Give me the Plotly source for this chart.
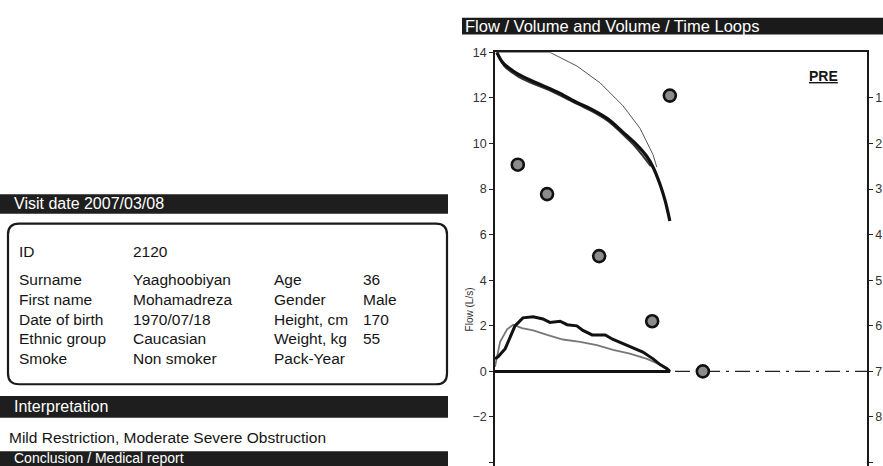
import plotly.graph_objects as go

W, H = 883, 466

# ---- spirometry curves (x = volume in L, y = flow in L/s) ----
fv_best_vol = [0.0, 0.07, 0.22, 0.32, 0.43, 0.60, 0.82, 1.03, 1.18, 1.40, 1.55, 1.76,
               1.89, 2.09, 2.37, 2.54, 2.90, 3.18, 3.40, 3.55, 3.70, 3.76, 0.0]
fv_best_flow = [0.55, 0.65, 1.0, 1.5, 2.0, 2.35, 2.4, 2.3, 2.15, 2.2, 2.05, 2.0,
                1.8, 1.6, 1.6, 1.4, 1.1, 0.85, 0.55, 0.3, 0.12, 0.0, 0.0]

fv_alt_vol = [0.0, 0.11, 0.26, 0.39, 0.58, 0.82, 1.12, 1.46, 1.83, 2.19, 2.54, 2.90, 3.27, 3.55, 3.76]
fv_alt_flow = [0.2, 1.3, 1.85, 2.05, 1.9, 1.8, 1.6, 1.4, 1.3, 1.15, 0.95, 0.78, 0.55, 0.3, 0.0]

# volume / time traces (right axis, litres, reversed)
vt_best_t = [0.04, 0.17, 0.39, 0.69, 1.03, 1.40, 1.76, 2.04, 2.41, 2.75, 3.05, 3.27, 3.40, 3.55, 3.66, 3.76]
vt_best_v = [0.0, 0.23, 0.41, 0.58, 0.73, 0.90, 1.10, 1.23, 1.45, 1.75, 2.03, 2.29, 2.52, 2.90, 3.26, 3.70]

vt_alt_t = [0.04, 0.20, 0.45, 0.75, 1.10, 1.45, 1.80, 2.10, 2.45, 2.75, 3.00, 3.20, 3.35]
vt_alt_v = [0.0, 0.30, 0.50, 0.66, 0.80, 0.97, 1.15, 1.30, 1.52, 1.80, 2.05, 2.30, 2.50]

vt_pred_t = [0.04, 1.18, 1.76, 2.26, 2.75, 3.12, 3.40, 3.48]
vt_pred_v = [0.0, 0.0, 0.30, 0.67, 1.17, 1.67, 2.25, 2.52]

# predicted points
pred_vol = [0.49, 1.12, 2.24, 3.38, 4.47, 3.76]
pred_flow = [9.07, 7.78, 5.06, 2.2, 0.0, 12.1]

baseline_x = [0.0, 8.0]
baseline_y = [0.0, 0.0]

flow_ticks = [-4, -2, 0, 2, 4, 6, 8, 10, 12, 14]
vol_ticks = [1, 2, 3, 4, 5, 6, 7, 8, 9]

# ---- patient panel ----
visit_header = "Visit date 2007/03/08"
patient_rows = [
    ("ID", "2120", "", ""),
    ("Surname", "Yaaghoobiyan", "Age", "36"),
    ("First name", "Mohamadreza", "Gender", "Male"),
    ("Date of birth", "1970/07/18", "Height, cm", "170"),
    ("Ethnic group", "Caucasian", "Weight, kg", "55"),
    ("Smoke", "Non smoker", "Pack-Year", ""),
]
interp_header = "Interpretation"
interp_text = "Mild Restriction, Moderate Severe Obstruction"
conclusion_header = "Conclusion / Medical report"
chart_title = "Flow / Volume and Volume / Time Loops"

FONT = "Liberation Sans, Arial, sans-serif"
INK = "#151515"


def px(x):
    return x / W


def py(y):
    return 1 - y / H


fig = go.Figure()

fig.add_trace(go.Scatter(x=baseline_x, y=baseline_y, mode="lines",
                         line=dict(color="#222", width=1.3, dash="longdashdot"),
                         hoverinfo="skip", showlegend=False))
fig.add_trace(go.Scatter(x=vt_pred_t, y=vt_pred_v, yaxis="y2", mode="lines",
                         line=dict(color="#555", width=1), showlegend=False))
fig.add_trace(go.Scatter(x=vt_alt_t, y=vt_alt_v, yaxis="y2", mode="lines",
                         line=dict(color="#333", width=2, shape="spline"), showlegend=False))
fig.add_trace(go.Scatter(x=vt_best_t, y=vt_best_v, yaxis="y2", mode="lines",
                         line=dict(color="#111", width=3.2, shape="spline"), showlegend=False))
fig.add_trace(go.Scatter(x=fv_alt_vol, y=fv_alt_flow, mode="lines",
                         line=dict(color="#777", width=1.8), showlegend=False))
fig.add_trace(go.Scatter(x=fv_best_vol, y=fv_best_flow, mode="lines",
                         line=dict(color="#111", width=3), showlegend=False))
fig.add_trace(go.Scatter(x=pred_vol, y=pred_flow, mode="markers",
                         marker=dict(size=12, color="#8c8c8c",
                                     line=dict(color="#111", width=2.6)),
                         showlegend=False))

shapes = []
annotations = []

# chart header bar
shapes.append(dict(type="rect", xref="paper", yref="paper",
                   x0=px(462), x1=px(883), y0=py(28), y1=py(11),
                   fillcolor="#1a1a1a", line=dict(width=0), layer="below"))
annotations.append(dict(xref="paper", yref="paper", x=px(463), y=py(19.5),
                        xanchor="left", yanchor="middle", showarrow=False,
                        text=chart_title, font=dict(family=FONT, size=16.5, color="white")))

# PRE tag and axis title
annotations.append(dict(xref="paper", yref="paper", x=px(823), y=py(70),
                        xanchor="center", yanchor="middle", showarrow=False,
                        text="<b><u>PRE</u></b>", font=dict(family=FONT, size=14, color=INK)))
annotations.append(dict(xref="paper", yref="paper", x=px(469), y=py(307),
                        xanchor="center", yanchor="middle", showarrow=False, textangle=-90,
                        text="Flow (L/s)", font=dict(family=FONT, size=10, color="#333")))


def header_bar(y0, y1, label, text_y, size=16):
    shapes.append(dict(type="rect", xref="paper", yref="paper",
                       x0=px(0), x1=px(448), y0=py(y1), y1=py(y0),
                       fillcolor="#1e1e1e", line=dict(width=0), layer="below"))
    annotations.append(dict(xref="paper", yref="paper", x=px(12), y=py(text_y),
                            xanchor="left", yanchor="middle", showarrow=False,
                            text=label, font=dict(family=FONT, size=size, color="white")))


header_bar(190, 210, visit_header, 200)
header_bar(395, 417, interp_header, 406)
header_bar(451, 466, conclusion_header, 458, size=14)

# rounded patient box
x0, x1, y0, y1, r = 8, 447, 220, 383, 11
path = (f"M {px(x0 + r)},{py(y0)} L {px(x1 - r)},{py(y0)} "
        f"Q {px(x1)},{py(y0)} {px(x1)},{py(y0 + r)} L {px(x1)},{py(y1 - r)} "
        f"Q {px(x1)},{py(y1)} {px(x1 - r)},{py(y1)} L {px(x0 + r)},{py(y1)} "
        f"Q {px(x0)},{py(y1)} {px(x0)},{py(y1 - r)} L {px(x0)},{py(y0 + r)} "
        f"Q {px(x0)},{py(y0)} {px(x0 + r)},{py(y0)} Z")
shapes.append(dict(type="path", xref="paper", yref="paper", path=path,
                   line=dict(color="#1a1a1a", width=2.2)))

row_y = [248, 277, 297, 317, 337, 357]
col_x = [17, 131, 272, 361]
for ry, row in zip(row_y, patient_rows):
    for cx, txt in zip(col_x, row):
        if txt:
            annotations.append(dict(xref="paper", yref="paper", x=px(cx), y=py(ry),
                                    xanchor="left", yanchor="middle", showarrow=False,
                                    text=txt, font=dict(family=FONT, size=15.5, color=INK)))

annotations.append(dict(xref="paper", yref="paper", x=px(7), y=py(437),
                        xanchor="left", yanchor="middle", showarrow=False,
                        text=interp_text, font=dict(family=FONT, size=15.5, color=INK)))

fig.update_layout(
    width=W, height=H,
    margin=dict(l=0, r=0, t=0, b=0),
    paper_bgcolor="white", plot_bgcolor="rgba(0,0,0,0)",
    showlegend=False,
    xaxis=dict(domain=[px(495), px(867)], range=[0, 8], side="top",
               showline=True, linecolor="#1a1a1a", linewidth=1.6,
               showgrid=False, zeroline=False, showticklabels=False, ticks=""),
    yaxis=dict(domain=[0, py(46)], range=[-4.15, 14], tickvals=flow_ticks,
               ticks="outside", ticklen=4, tickcolor="#222", tickwidth=1.2,
               showline=True, linecolor="#1a1a1a", linewidth=1.6,
               showgrid=False, zeroline=False,
               tickfont=dict(family=FONT, size=12.5, color="#333")),
    yaxis2=dict(overlaying="y", side="right", anchor="x",
                range=[9.075, 0], tickvals=vol_ticks,
                ticks="outside", ticklen=4, tickcolor="#222", tickwidth=1.2,
                showline=True, linecolor="#1a1a1a", linewidth=1.6,
                showgrid=False, zeroline=False,
                tickfont=dict(family=FONT, size=12.5, color="#333")),
    shapes=shapes,
    annotations=annotations,
)

fig.write_html("out.html")
